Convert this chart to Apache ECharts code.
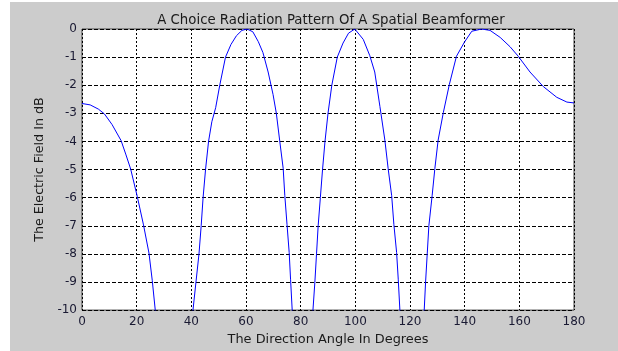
<!DOCTYPE html>
<html><head><meta charset="utf-8">
<script src="https://cdn.jsdelivr.net/npm/echarts@6/dist/echarts.min.js"></script>
<style>html,body{margin:0;padding:0;background:#fff}#c{width:618px;height:351px}</style>
</head><body><div id="c"></div>
<script>
var chartTitle = 'A Choice Radiation Pattern Of A Spatial Beamformer';
var xName = 'The Direction Angle In Degrees';
var yName = 'The Electric Field In dB';
var xTicks = [0, 20, 40, 60, 80, 100, 120, 140, 160, 180];
var yTicks = [0, -1, -2, -3, -4, -5, -6, -7, -8, -9, -10];
// angle (degrees) and field (dB) samples; nulls dip below the -10 dB floor
var angles = [0, 3, 6, 8.2, 11, 14.3, 16, 17.8, 20.2, 22.5, 24.5, 25.7, 26.8, 33.5,
  40.6, 41.7, 42.8, 43.6, 44.3, 45.2, 46.3, 47.5, 48.9, 50.4, 52.5, 54.5, 56.5, 58.5, 60.4,
  62.5, 64.5, 66.2, 68.1, 69.9, 71.1, 72.3, 73.6, 74.2, 75.0, 75.8, 76.3, 76.9, 80.7,
  84.5, 85.2, 85.8, 86.4, 87.2, 88.0, 88.9, 90.0, 91.4, 93.4, 95.5, 97.5, 99.8,
  102.9, 105.3, 107.1, 109.0, 110.8, 112.0, 113.3, 114.1, 115.1, 115.7, 116.3, 120.7,
  125.2, 125.7, 126.3, 126.9, 128.1, 129.1, 130.3, 132.2, 134.4, 137.0, 139.9, 142.6, 146.2,
  149.3, 153.0, 156.6, 159.6, 163.9, 168.8, 173.7, 177.4, 180];
var fieldDb = [-2.65, -2.70, -2.85, -3.02, -3.4, -3.97, -4.45, -4.98, -5.95, -6.97, -7.97, -8.94, -10, -40,
  -10, -9, -8, -7, -6, -5, -4, -3.3, -2.8, -2, -1, -0.55, -0.24, -0.05, 0,
  -0.1, -0.45, -0.84, -1.53, -2.33, -3.0, -3.95, -4.96, -5.93, -6.95, -7.95, -8.9, -10, -40,
  -10, -9, -8, -7, -6, -5, -4, -3, -2, -1, -0.5, -0.15, 0,
  -0.37, -0.95, -1.53, -2.76, -3.95, -4.96, -5.93, -6.95, -7.95, -8.9, -10, -40,
  -10, -9, -8, -7, -5.93, -4.96, -3.95, -2.97, -1.97, -0.97, -0.47, -0.08, 0,
  -0.05, -0.3, -0.63, -0.97, -1.53, -2.05, -2.43, -2.6, -2.63];

var pts = angles.map(function (a, i) { return [a, fieldDb[i]]; });
var font = 'DejaVu Sans, Verdana, sans-serif';
var chart = echarts.init(document.getElementById('c'), null, {renderer: 'canvas'});
chart.setOption({
  backgroundColor: '#cccccc',
  animation: false,
  graphic: [
    {type: 'rect', shape: {x: 0, y: 0, width: 10, height: 351}, style: {fill: '#ffffff'}, silent: true},
    {type: 'rect', shape: {x: 0, y: 0, width: 618, height: 2}, style: {fill: '#ffffff'}, silent: true}
  ],
  title: {
    text: chartTitle, left: 326, top: 9, textAlign: 'center',
    textStyle: {fontFamily: font, fontSize: 13.3, fontWeight: 'normal', color: '#1a1a1a'}
  },
  grid: {left: 82, right: 44, top: 29, bottom: 33, show: true, backgroundColor: '#ffffff', borderColor: '#444', borderWidth: 1},
  xAxis: {
    type: 'value', min: xTicks[0], max: xTicks[xTicks.length - 1], interval: 20,
    name: xName, nameLocation: 'middle', nameGap: 20,
    nameTextStyle: {fontFamily: font, fontSize: 12.9, color: '#1a1a1a'},
    axisLine: {show: false}, axisTick: {show: false},
    axisLabel: {fontFamily: font, fontSize: 12, color: '#1a1a33', margin: 6},
    splitLine: {show: true, lineStyle: {color: '#000', type: [2, 2], width: 1}}
  },
  yAxis: {
    type: 'value', min: yTicks[yTicks.length - 1], max: yTicks[0], interval: 1,
    name: yName, nameLocation: 'middle', nameGap: 36,
    nameTextStyle: {fontFamily: font, fontSize: 12.7, color: '#1a1a1a'},
    axisLine: {show: false}, axisTick: {show: false},
    axisLabel: {fontFamily: font, fontSize: 12, color: '#1a1a33', margin: 5},
    splitLine: {show: true, lineStyle: {color: '#000', type: [4, 2], width: 1}}
  },
  series: [{
    type: 'line', data: pts, showSymbol: false, clip: true, smooth: false,
    lineStyle: {color: '#0000ff', width: 1}
  }]
});
</script></body></html>
